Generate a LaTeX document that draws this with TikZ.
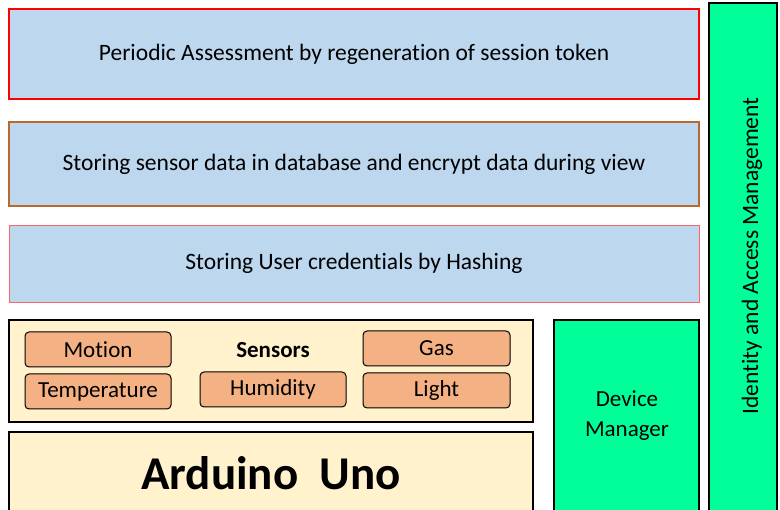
\documentclass[tikz,border=0pt]{standalone}
\usepackage{fontspec}
\setmainfont{Carlito}[Ligatures=NoCommon]
\begin{document}
\begin{tikzpicture}[x=1pt,y=-1pt,
  layer/.style={draw, line width=1.2pt, fill=blue1, inner sep=0pt, font=\fontsize{23.5}{26}\selectfont},
  base/.style={draw=black, line width=1.2pt, fill=cream, inner sep=0pt},
  sensorbox/.style={draw=black, line width=1pt, fill=peach, rounded corners=4pt, inner sep=0pt, font=\fontsize{23}{26}\selectfont},
  greenbox/.style={draw=black, line width=1.2pt, fill=mint, inner sep=0pt}]
\definecolor{blue1}{HTML}{BDD7EE}
\definecolor{cream}{HTML}{FFF2CC}
\definecolor{peach}{HTML}{F4B183}
\definecolor{mint}{HTML}{00FF99}
\definecolor{brownb}{HTML}{B8692E}
\definecolor{redb}{HTML}{FF6666}
\useasboundingbox (0,0) rectangle (780,510);
\fill[white] (0,0) rectangle (780,510);
% layers
\node[layer, draw=red, minimum width=690pt, minimum height=90pt] (pa) at (354,54) {Periodic Assessment by regeneration of session token};
\node[layer, draw=brownb, minimum width=690pt, minimum height=84pt] (sd) at (354,164) {Storing sensor data in database and encrypt data during view};
\node[layer, draw=redb, line width=0.8pt, minimum width=690pt, minimum height=77pt] (uc) at (354,263.5) {Storing User credentials by Hashing};
% sensors
\node[base, minimum width=524pt, minimum height=102pt] (sens) at (271,371) {};
\node[font=\fontsize{23}{26}\selectfont\bfseries] (senst) at (273,350) {Sensors};
\node[sensorbox, minimum width=146pt, minimum height=35pt] (mo) at (98,349.5) {Motion};
\node[sensorbox, minimum width=146pt, minimum height=35pt] (te) at (98,391.5) {Temperature};
\node[sensorbox, minimum width=146pt, minimum height=35pt] (hu) at (273,389.5) {Humidity};
\node[sensorbox, minimum width=147pt, minimum height=35pt] (ga) at (436.5,348.5) {Gas};
\node[sensorbox, minimum width=147pt, minimum height=35pt] (li) at (436.5,390.5) {Light};
% arduino
\node[base, minimum width=524pt, minimum height=90pt] (ard) at (271,477) {};
\node[font=\fontsize{47}{50}\selectfont\bfseries] (ardt) at (271,473) {Arduino\ \ Uno};
% green boxes
\node[greenbox, minimum width=145pt, minimum height=200pt] (dm) at (626.5,420) {};
\node[font=\fontsize{23}{30}\selectfont, align=center] (dmt) at (627,416) {Device\\Manager};
\node[greenbox, minimum width=68pt, minimum height=520pt] (iam) at (743,263) {};
\node[font=\fontsize{23.5}{26}\selectfont, rotate=90] (iamt) at (752,256) {Identity and Access Management};
\end{tikzpicture}
\end{document}
